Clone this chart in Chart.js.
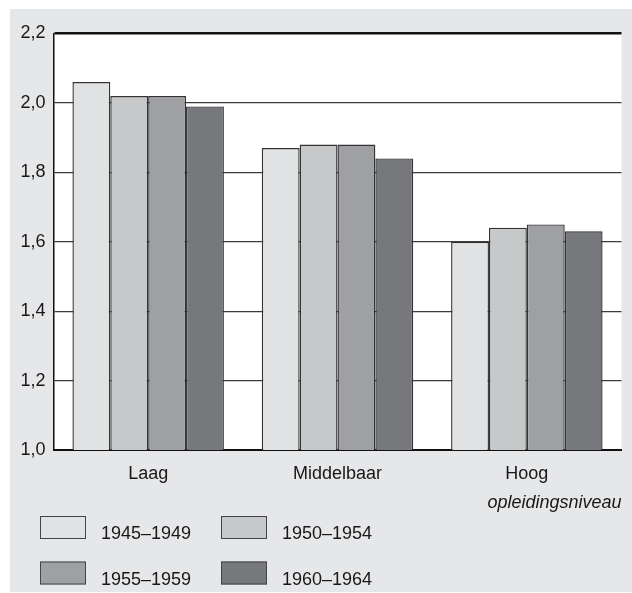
<!DOCTYPE html>
<html>
<head>
<meta charset="utf-8">
<script src="https://cdn.jsdelivr.net/npm/chart.js@4"></script>
<style>
  html, body { margin: 0; padding: 0; background: #fff; }
  #wrap { width: 632px; height: 593px; position: relative; }
</style>
</head>
<body>
<div id="wrap"><canvas id="chart" width="632" height="593"></canvas></div>
<script>
const categories = ['Laag', 'Middelbaar', 'Hoog'];
const cohorts = ['1945\u20131949', '1950\u20131954', '1955\u20131959', '1960\u20131964'];
const values1945 = [2.06, 1.87, 1.60];
const values1950 = [2.02, 1.88, 1.64];
const values1955 = [2.02, 1.88, 1.65];
const values1960 = [1.99, 1.84, 1.63];
const yTicks = [1.0, 1.2, 1.4, 1.6, 1.8, 2.0, 2.2];
const xTitle = 'opleidingsniveau';

const fills = ['#e1e2e4', '#c7c8ca', '#9fa0a3', '#77787b'];
const font = "'Liberation Sans', Arial, sans-serif";
const ink = '#1a1718';

const datasets = [values1945, values1950, values1955, values1960].map((vals, i) => ({
    label: cohorts[i],
    data: vals,
    backgroundColor: fills[i],
    borderColor: '#333',
    borderWidth: 1.4,
    borderSkipped: 'start'
}));

// grey panel behind everything, white plot area
const panel = {
    id: 'panel',
    beforeDraw(chart) {
        const { ctx, chartArea: a } = chart;
        ctx.save();
        ctx.fillStyle = '#e6e7e8';
        ctx.fillRect(10, 9, 622, 583);
        ctx.fillStyle = '#ffffff';
        ctx.fillRect(a.left, a.top, a.right - a.left, a.bottom - a.top);
        ctx.restore();
    }
};

// 2x2 legend with big swatches under the plot
const boxLegend = {
    id: 'boxLegend',
    afterDraw(chart) {
        const { ctx } = chart;
        const cols = [40, 221];
        const rows = [516, 561.5];
        ctx.save();
        chart.data.datasets.forEach((ds, i) => {
            const x = cols[i % 2];
            const y = rows[Math.floor(i / 2)];
            ctx.fillStyle = ds.backgroundColor;
            ctx.fillRect(x, y, 46, 23);
            ctx.strokeStyle = '#444';
            ctx.lineWidth = 1;
            ctx.strokeRect(x + 0.5, y + 0.5, 45, 22);
            ctx.fillStyle = ink;
            ctx.font = '18px ' + font;
            ctx.textAlign = 'left';
            ctx.textBaseline = 'alphabetic';
            ctx.fillText(ds.label, x + 61, y + 23);
        });
        ctx.restore();
    }
};

new Chart(document.getElementById('chart'), {
    type: 'bar',
    data: { labels: categories, datasets: datasets },
    options: {
        responsive: false,
        animation: false,
        layout: { padding: { left: 0, right: 10.5, top: 33.5, bottom: 79 } },
        datasets: { bar: { categoryPercentage: 0.8, barPercentage: 1.0 } },
        plugins: {
            legend: { display: false },
            tooltip: { enabled: false }
        },
        scales: {
            x: {
                grid: { display: false },
                border: { display: true, color: '#111', width: 2 },
                ticks: { color: ink, font: { family: font, size: 18 }, padding: 5 },
                title: {
                    display: true,
                    text: xTitle,
                    align: 'end',
                    color: ink,
                    font: { family: font, size: 18, style: 'italic' },
                    padding: { top: 0, bottom: 0 }
                },
                afterFit(scale) { scale.height = 64; }
            },
            y: {
                min: yTicks[0],
                max: yTicks[yTicks.length - 1],
                afterBuildTicks(scale) { scale.ticks = yTicks.map(v => ({ value: v })); },
                grid: {
                    drawTicks: false,
                    color: ctx => ctx.tick && ctx.tick.value >= 2.19 ? '#111' : '#3c3c3c',
                    lineWidth: ctx => {
                        if (!ctx.tick) return 1;
                        if (ctx.tick.value >= 2.19) return 2.5;
                        if (ctx.tick.value <= 1.01) return 0;
                        return 1.2;
                    }
                },
                border: { display: true, color: '#111', width: 1.5 },
                ticks: {
                    color: ink,
                    font: { family: font, size: 18 },
                    padding: 8,
                    callback: v => Number(v).toFixed(1).replace('.', ',')
                },
                afterFit(scale) { scale.width = 53.5; }
            }
        }
    },
    plugins: [panel, boxLegend]
});
</script>
</body>
</html>
